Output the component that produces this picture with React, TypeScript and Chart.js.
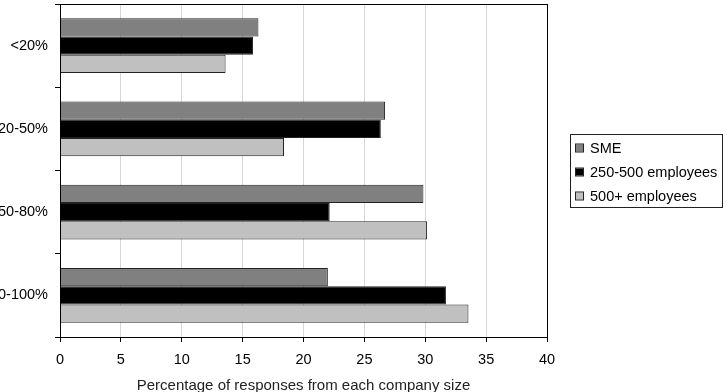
import React, { useEffect, useRef } from "react";
import { Chart, registerables } from "chart.js";

Chart.register(...registerables);

const categories = ["<20%", "20-50%", "50-80%", "80-100%"];
const seriesNames = ["SME", "250-500 employees", "500+ employees"];
const smeValues = [16.3, 26.7, 29.85, 22.0];
const midValues = [15.85, 26.35, 22.15, 31.7];
const largeValues = [13.6, 18.4, 30.15, 33.55];
const seriesColors = ["#808080", "#000000", "#c0c0c0"];
const xTitle = "Percentage of responses from each company size";

const FONT = "'Liberation Sans', Arial, sans-serif";

const frameAndLegend = {
  id: "frameAndLegend",
  afterDraw(chart: any) {
    const { ctx, chartArea } = chart;
    ctx.save();
    ctx.strokeStyle = "#000";
    ctx.lineWidth = 1;
    ctx.strokeRect(
      Math.round(chartArea.left) + 0.5,
      Math.round(chartArea.top) + 0.5,
      Math.round(chartArea.right - chartArea.left),
      Math.round(chartArea.bottom - chartArea.top)
    );
    // legend
    const bx = 570.5, by = 134.5, bw = 152, bh = 73;
    ctx.strokeStyle = "#222";
    ctx.strokeRect(bx, by, bw, bh);
    ctx.font = `14.5px ${FONT}`;
    ctx.textBaseline = "middle";
    ctx.textAlign = "left";
    const ys = [148, 172, 196];
    chart.data.datasets.forEach((ds: any, i: number) => {
      const y = ys[i];
      ctx.fillStyle = ds.backgroundColor;
      ctx.fillRect(576, y - 3.5, 7, 7);
      ctx.strokeStyle = "#222";
      ctx.strokeRect(575.5, y - 4, 8, 8);
      ctx.fillStyle = "#000";
      ctx.fillText(ds.label, 590, y + 1);
    });
    ctx.restore();
  },
};

export default function App() {
  const ref = useRef<HTMLCanvasElement | null>(null);
  useEffect(() => {
    if (!ref.current) return;
    const chart = new Chart(ref.current, {
      type: "bar",
      data: {
        labels: categories,
        datasets: [smeValues, midValues, largeValues].map((vals, i) => ({
          label: seriesNames[i],
          data: vals,
          backgroundColor: seriesColors[i],
          borderColor: "#222",
          borderWidth: 1,
          categoryPercentage: 0.66,
          barPercentage: 1,
        })),
      },
      options: {
        indexAxis: "y",
        animation: false,
        responsive: true,
        maintainAspectRatio: false,
        layout: { padding: { top: 4, right: 180, left: 0, bottom: 0 } },
        plugins: {
          legend: { display: false },
          tooltip: { enabled: false },
        },
        scales: {
          x: {
            min: 0,
            max: 40,
            ticks: {
              stepSize: 5,
              color: "#000",
              padding: 9,
              font: { family: FONT, size: 14.5 },
            },
            grid: {
              color: "#d6d6d6",
              tickColor: "#000",
              tickLength: 5,
            },
            border: { color: "#000" },
            title: {
              display: true,
              text: xTitle,
              color: "#222",
              font: { family: FONT, size: 15, lineHeight: 0.85 },
              padding: { top: 0, bottom: 0 },
            },
            afterFit(scale: any) {
              scale.height = 55;
              scale.paddingLeft = 0;
              scale.paddingRight = 0;
            },
          },
          y: {
            ticks: {
              color: "#000",
              padding: 7,
              font: { family: FONT, size: 14.5 },
            },
            grid: {
              offset: true,
              drawOnChartArea: false,
              tickColor: "#000",
              tickLength: 5,
            },
            border: { color: "#000" },
            afterFit(scale: any) {
              scale.width = 60;
              scale.paddingTop = 0;
              scale.paddingBottom = 0;
            },
          },
        },
      },
      plugins: [frameAndLegend],
    });
    return () => chart.destroy();
  }, []);
  return (
    <div style={{ position: "fixed", left: 0, top: 0, width: 727, height: 392, background: "#fff" }}>
      <canvas ref={ref} />
    </div>
  );
}
